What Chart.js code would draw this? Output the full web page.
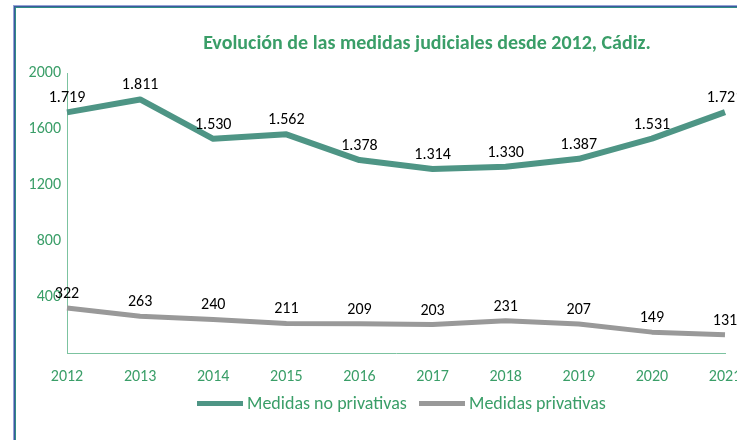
<!DOCTYPE html>
<html>
<head>
<meta charset="utf-8">
<script src="https://cdn.jsdelivr.net/npm/chart.js@4.4.0/dist/chart.umd.min.js"></script>
<style>
  html, body { margin:0; padding:0; width:737px; height:440px; overflow:hidden; background:#fff; }
  #wrap { position:relative; width:780px; height:440px; }
  canvas { position:absolute; left:0; top:0; }
  .f1 { position:absolute; left:13px; top:5px; width:800px; height:500px; border-left:1px solid #95a3d6; border-top:1px solid #95a3d6; }
  .f2 { position:absolute; left:14px; top:6px; width:800px; height:500px; border-left:1px solid #3b5a9c; border-top:1px solid #3b5a9c; }
  .f3 { position:absolute; left:15px; top:7px; width:800px; height:500px; border-left:1px solid #2f8c86; border-top:1px solid #2f8c86; }
</style>
</head>
<body>
<div id="wrap">
  <canvas id="c" width="780" height="440"></canvas>
  <div class="f1"></div><div class="f2"></div><div class="f3"></div>
</div>
<script>
const TITLE = 'Evolución de las medidas judiciales desde 2012, Cádiz.';
const years = ['2012','2013','2014','2015','2016','2017','2018','2019','2020','2021'];
const noPrivativas = [1719, 1811, 1530, 1562, 1378, 1314, 1330, 1387, 1531, 1721];
const privativas = [322, 263, 240, 211, 209, 203, 231, 207, 149, 131];
const seriesNames = ['Medidas no privativas', 'Medidas privativas'];
const yTicks = [0, 400, 800, 1200, 1600, 2000];

const FONT = "Carlito, Lato, 'Open Sans', sans-serif";
const GREEN_TXT = '#3a9e68';
const GREEN_LINE = '#4e9585';
const GRAY_LINE = '#999999';

function fmt(v){ return v >= 1000 ? String(v).replace(/\B(?=(\d{3})+(?!\d))/g, '.') : String(v); }

const decor = {
  id: 'decor',
  afterDatasetsDraw(chart) {
    const ctx = chart.ctx;
    ctx.save();
    // data labels
    ctx.font = "16px " + FONT;
    ctx.fillStyle = '#000';
    ctx.textAlign = 'center';
    ctx.textBaseline = 'middle';
    chart.data.datasets.forEach((ds, i) => {
      const meta = chart.getDatasetMeta(i);
      meta.data.forEach((pt, j) => {
        ctx.fillText(fmt(ds.data[j]), pt.x, pt.y - 14);
      });
    });
    // title
    ctx.font = "bold 20px " + FONT;
    ctx.fillStyle = GREEN_TXT;
    ctx.fillText(TITLE, 427, 44);
    // legend
    ctx.font = "18px " + FONT;
    ctx.textAlign = 'left';
    const items = [
      {x: 197, color: GREEN_LINE, text: seriesNames[0]},
      {x: 419, color: GRAY_LINE, text: seriesNames[1]}
    ];
    items.forEach(it => {
      ctx.fillStyle = it.color;
      ctx.fillRect(it.x, 401, 46, 5);
      ctx.fillStyle = GREEN_TXT;
      ctx.fillText(it.text, it.x + 50, 404);
    });
    ctx.restore();
  }
};

new Chart(document.getElementById('c'), {
  type: 'line',
  data: {
    labels: years,
    datasets: [
      { label: seriesNames[0], data: noPrivativas, borderColor: GREEN_LINE, borderWidth: 6, pointRadius: 0, tension: 0, fill: false, borderJoinStyle: 'round' },
      { label: seriesNames[1], data: privativas, borderColor: GRAY_LINE, borderWidth: 5, pointRadius: 0, tension: 0, fill: false, borderJoinStyle: 'round' }
    ]
  },
  options: {
    responsive: false,
    animation: false,
    devicePixelRatio: 1,
    layout: { padding: { left: 0, top: 73, right: 55, bottom: 0 } },
    plugins: { legend: { display: false }, title: { display: false }, tooltip: { enabled: false } },
    scales: {
      x: {
        offset: false,
        grid: { display: false, drawTicks: false },
        border: { display: true, color: '#7cc3a0', width: 1 },
        ticks: { color: GREEN_TXT, font: { size: 16, family: FONT }, padding: 14, maxRotation: 0, autoSkip: false },
        afterFit(s) { s.height = 87; }
      },
      y: {
        min: 0, max: 2000,
        afterBuildTicks(s) { s.ticks = yTicks.map(v => ({ value: v })); },
        grid: { display: false, drawTicks: false },
        border: { display: true, color: '#7cc3a0', width: 1 },
        ticks: { color: GREEN_TXT, font: { size: 16, family: FONT }, padding: 6, callback: v => v === 0 ? '' : String(v) },
        afterFit(s) { s.width = 67; }
      }
    }
  },
  plugins: [decor]
});
</script>
</body>
</html>
